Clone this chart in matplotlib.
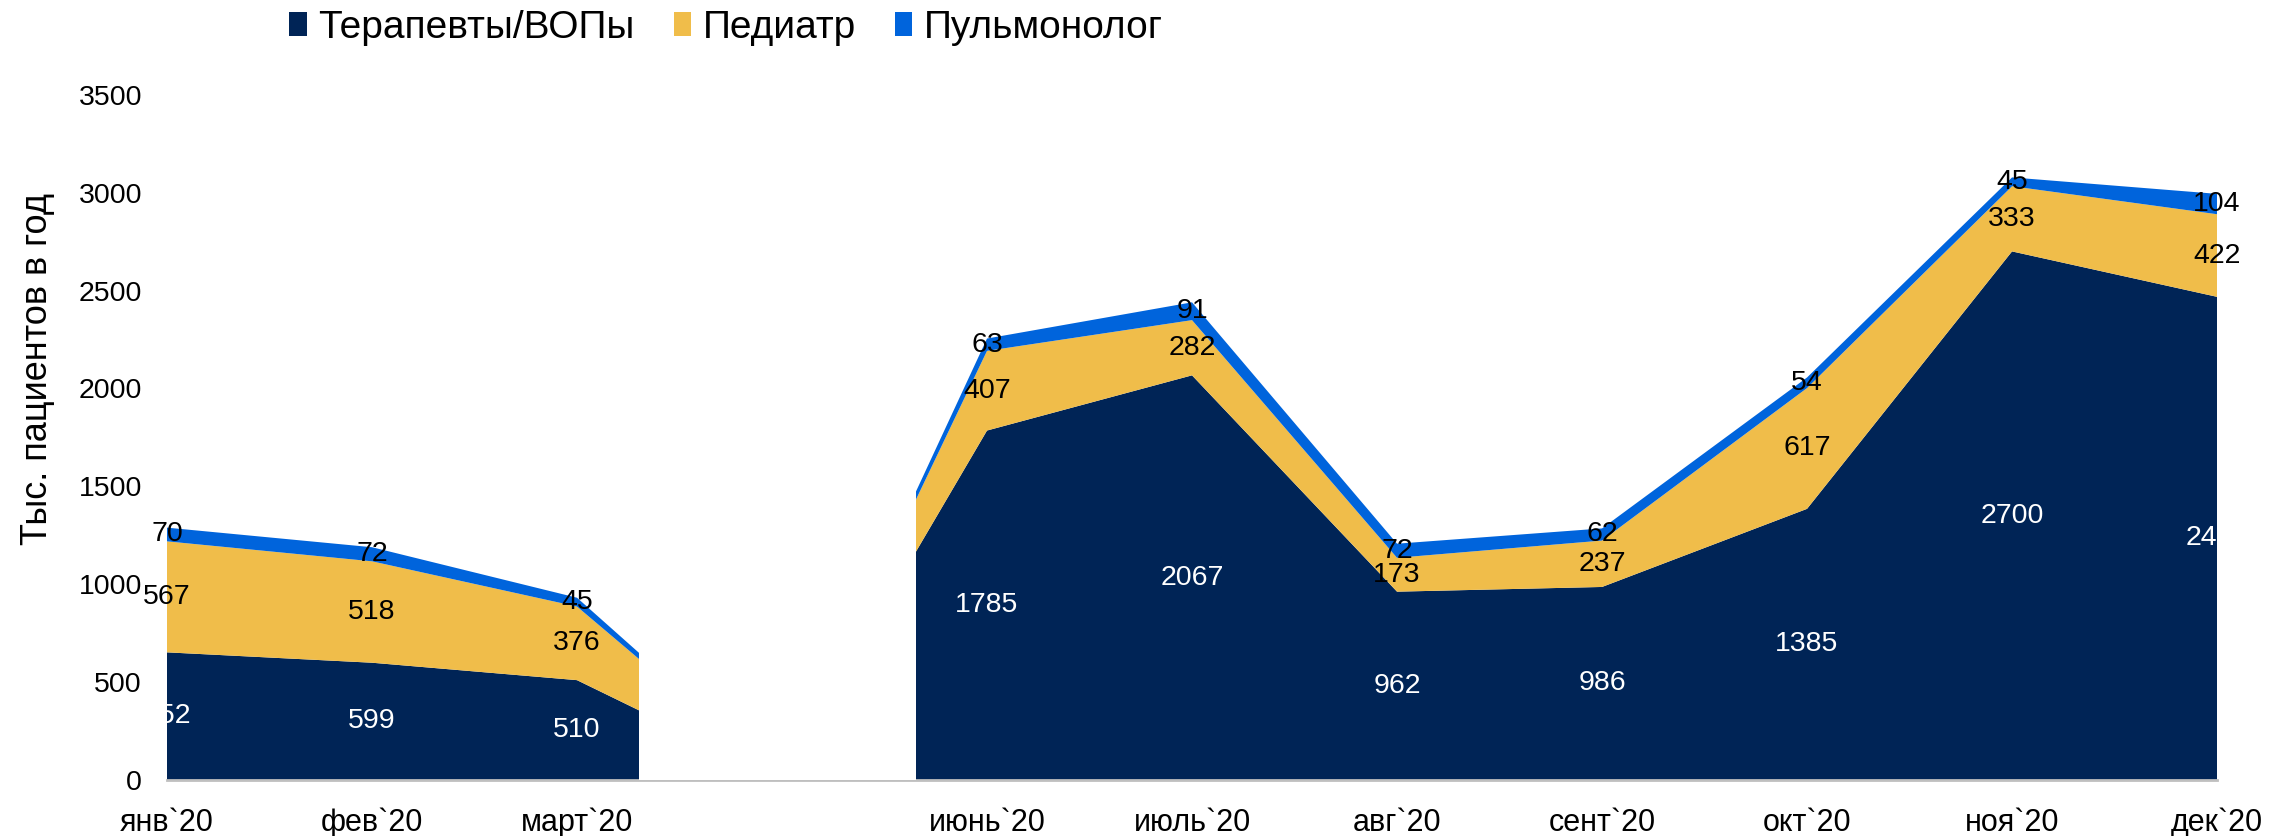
import numpy as np
import matplotlib.pyplot as plt
from matplotlib.patches import Patch

plt.rcParams['font.family'] = ['Liberation Sans', 'DejaVu Sans']

# months (апр/май have no data -> empty slot, hidden in the chart)
months = ['янв`20', 'фев`20', 'март`20', '', 'июнь`20', 'июль`20',
          'авг`20', 'сент`20', 'окт`20', 'ноя`20', 'дек`20']
terapevty = [652, 599, 510, 0, 1785, 2067, 962, 986, 1385, 2700, 2468]
pediatr = [567, 518, 376, 0, 407, 282, 173, 237, 617, 333, 422]
pulmonolog = [70, 72, 45, 0, 63, 91, 72, 62, 54, 45, 104]
series_names = ['Терапевты/ВОПы', 'Педиатр', 'Пульмонолог']

colors = ['#002456', '#F0BD4A', '#0064DC']
label_colors = ['white', 'black', 'black']

fig = plt.figure(figsize=(22.69, 8.36), dpi=100)
ax = fig.add_axes([0.0736, 0.067, 0.9035, 0.8196])

x = np.arange(len(months))
data = np.array([terapevty, pediatr, pulmonolog])
ax.stackplot(x, data, colors=colors, zorder=2)

# white cover over the missing months, like in the original
gap = months.index('')
ax.axvspan(gap - 0.70, gap + 0.654, color='white', zorder=3, lw=0)

# data labels in the middle of each band
bottoms = np.zeros(len(months))
for vals, c in zip(data, label_colors):
    for i, v in enumerate(vals):
        if months[i] == '':
            continue
        ax.text(i, bottoms[i] + v / 2, str(v), ha='center', va='center',
                fontsize=20.5, color=c, zorder=5)
    bottoms = bottoms + vals

ax.set_xlim(0, len(months) - 1)
ax.set_ylim(0, 3500)
ax.set_xticks(x)
ax.set_xticklabels(months, fontsize=22)
ax.set_yticks(np.arange(0, 3501, 500))
ax.tick_params(axis='y', length=0, pad=18, labelsize=20.5)
ax.tick_params(axis='x', length=0, pad=20)
ax.set_ylabel('Тыс. пациентов в год', fontsize=26)
ax.yaxis.set_label_coords(-0.0547, 0.60)

for s in ['top', 'right', 'left']:
    ax.spines[s].set_visible(False)
ax.spines['bottom'].set_color('#BFBFBF')
ax.spines['bottom'].set_linewidth(2)

handles = [Patch(facecolor=c, edgecolor='none') for c in colors]
fig.legend(handles, series_names, loc='center', bbox_to_anchor=(0.32, 0.967),
           ncol=3, frameon=False, fontsize=28, handlelength=0.45,
           handleheight=0.6, handletextpad=0.3, columnspacing=1.0)

fig.savefig('out.png', dpi=100)
